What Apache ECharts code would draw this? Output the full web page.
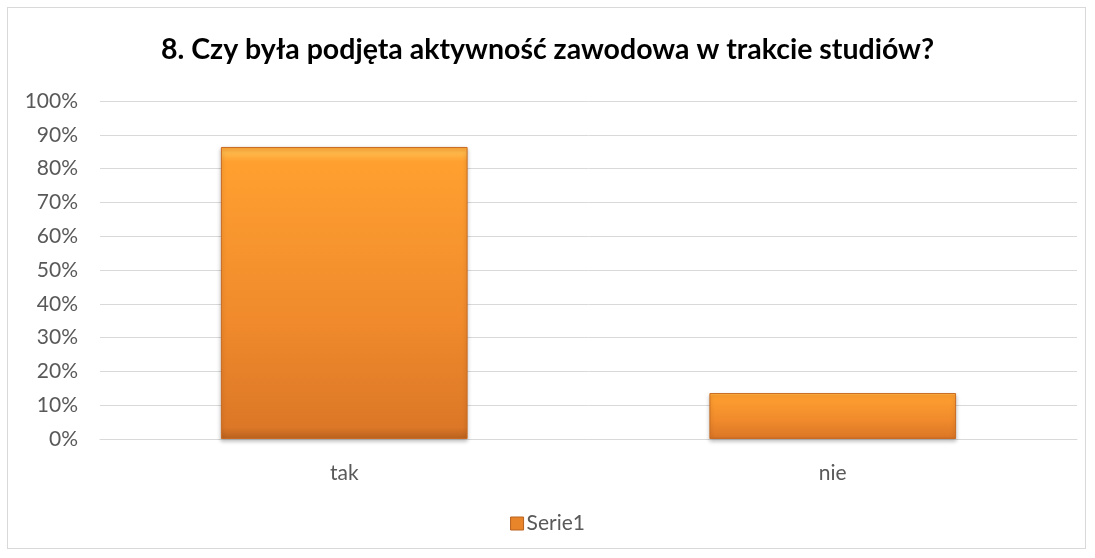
<!DOCTYPE html>
<html>
<head>
<meta charset="utf-8">
<script src="https://cdn.jsdelivr.net/npm/echarts@6/dist/echarts.min.js"></script>
<style>
  html, body { margin: 0; padding: 0; background: #fff; }
  #frame {
    position: absolute; left: 7px; top: 7px; width: 1079px; height: 542px;
    border: 1px solid #d9d9d9; box-sizing: border-box;
  }
  #chart { position: absolute; left: 0; top: 0; width: 1095px; height: 558px; }
</style>
</head>
<body>
<div id="frame"></div>
<div id="chart"></div>
<script>
const titleText = '8. Czy była podjęta aktywność zawodowa w trakcie studiów?'
const categories = ['tak', 'nie']
const seriesName = 'Serie1'
const values = [86.4, 13.6]

const chart = echarts.init(document.getElementById('chart'))

const barFill = new echarts.graphic.LinearGradient(0, 0, 0, 1, [
  { offset: 0, color: '#ffa535' },
  { offset: 0.02, color: '#ffb84a' },
  { offset: 0.05, color: '#ffa030' },
  { offset: 0.6, color: '#f08a2c' },
  { offset: 0.96, color: '#dc7727' },
  { offset: 1, color: '#b9621f' },
])

chart.setOption({
  animation: false,
  title: {
    text: titleText,
    left: 'center',
    top: 30,
    textStyle: {
      fontFamily: 'Lato',
      fontWeight: 'bold',
      fontSize: 28.5,
      color: '#000',
    },
  },
  legend: {
    bottom: 19,
    left: 'center',
    itemWidth: 13,
    itemHeight: 13,
    icon: 'rect',
    itemGap: 4,
    textStyle: { fontFamily: 'Lato', fontSize: 21, color: '#595959', padding: [0, 0, 0, -2] },
    data: [{ name: seriesName, itemStyle: { color: '#e8852a', borderColor: '#b9621f', borderWidth: 1 } }],
  },
  grid: {
    left: 100,
    right: 18,
    top: 101,
    bottom: 119,
  },
  xAxis: {
    type: 'category',
    data: categories,
    axisTick: { show: false },
    axisLine: { lineStyle: { color: '#d9d9d9', width: 1 } },
    axisLabel: { fontFamily: 'Lato', fontSize: 21, color: '#595959', margin: 24 },
  },
  yAxis: {
    type: 'value',
    min: 0,
    max: 100,
    interval: 10,
    axisLine: { show: false },
    axisTick: { show: false },
    axisLabel: {
      fontFamily: 'Lato',
      fontSize: 21,
      color: '#595959',
      margin: 22,
      formatter: v => v + '%',
    },
    splitLine: { lineStyle: { color: '#d9d9d9', width: 1 } },
  },
  series: [
    {
      name: seriesName,
      type: 'bar',
      data: values,
      barWidth: '50.5%',
      itemStyle: {
        color: barFill,
        borderColor: '#c96b22',
        borderWidth: 1,
        shadowColor: 'rgba(0,0,0,0.25)',
        shadowBlur: 4,
        shadowOffsetY: 2,
      },
    },
  ],
})
</script>
</body>
</html>
